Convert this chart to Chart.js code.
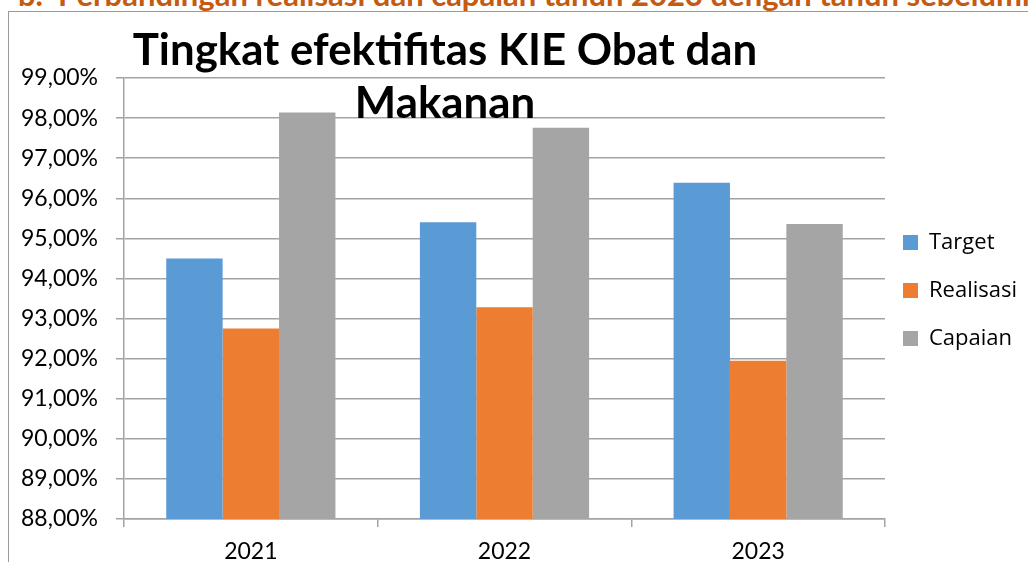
<!DOCTYPE html>
<html>
<head>
<meta charset="utf-8">
<script src="https://cdn.jsdelivr.net/npm/chart.js@4.4.0/dist/chart.umd.min.js"></script>
<style>
  html, body { margin: 0; padding: 0; background: #fff; width: 1028px; height: 562px; overflow: hidden; }
  #heading { position: absolute; left: 18px; top: -25px; line-height: 34px; white-space: nowrap;
             font: bold 31px Lato, sans-serif; color: #C55A11; }
  #frame { position: absolute; left: 8px; top: 11px; width: 1100px; height: 700px;
           border-left: 1px solid #9a9a9a; border-top: 1px solid #9a9a9a; }
  #wrap { position: absolute; left: 0; top: 0; width: 1028px; height: 562px; }
</style>
</head>
<body>
<div id="heading">b.&nbsp;&nbsp;Perbandingan realisasi dan capaian tahun 2023 dengan tahun sebelumnya</div>
<div id="frame"></div>
<div id="wrap"><canvas id="c"></canvas></div>
<script>
const categories = ['2021', '2022', '2023'];
const seriesNames = ['Target', 'Realisasi', 'Capaian'];
const targetValues = [94.50, 95.40, 96.39];
const realisasiValues = [92.75, 93.28, 91.95];
const capaianValues = [98.14, 97.76, 95.36];
const yMin = 88, yMax = 99, yStep = 1;
const titleLines = ['Tingkat efektifitas KIE Obat dan', 'Makanan'];

const FONT = 'Lato';
const LEGEND_FONT = 'Open Sans';
const GRID = '#A3A3A3';

const titlePlugin = {
  id: 'overlayTitle',
  afterDraw(chart) {
    const ctx = chart.ctx;
    ctx.save();
    ctx.font = 'bold 100px ' + FONT;
    const w = ctx.measureText(titleLines[0]).width;
    const size = 100 * 624 / w;
    ctx.font = 'bold ' + size.toFixed(1) + 'px ' + FONT;
    ctx.fillStyle = '#000';
    ctx.textAlign = 'center';
    ctx.textBaseline = 'alphabetic';
    ctx.fillText(titleLines[0], 445, 65);
    ctx.fillText(titleLines[1], 445, 118);
    ctx.restore();
  }
};

// nudge the legend block to where the original places it
const legendPlacer = {
  id: 'legendPlacer',
  afterLayout(chart) {
    const lg = chart.legend;
    if (!lg) return;
    const pad = lg.options.labels.padding;
    const dx = (903 - pad) - lg.left;
    lg.left += dx; lg.right += dx;
    lg.top -= 8; lg.bottom -= 8;
  }
};

new Chart(document.getElementById('c'), {
  type: 'bar',
  data: {
    labels: categories,
    datasets: [
      { label: seriesNames[0], data: targetValues, backgroundColor: '#5B9BD5' },
      { label: seriesNames[1], data: realisasiValues, backgroundColor: '#ED7D31' },
      { label: seriesNames[2], data: capaianValues, backgroundColor: '#A5A5A5' }
    ]
  },
  options: {
    responsive: true,
    maintainAspectRatio: false,
    animation: false,
    categoryPercentage: 0.667,
    barPercentage: 1.0,
    layout: { padding: { top: 78, left: 0, right: -7, bottom: 0 } },
    plugins: {
      tooltip: { enabled: false },
      title: { display: false },
      legend: {
        position: 'right',
        align: 'center',
        fullSize: false,
        labels: {
          boxWidth: 15, boxHeight: 15, padding: 26,
          color: '#000',
          font: { family: LEGEND_FONT, size: 22 }
        }
      }
    },
    scales: {
      x: {
        grid: { display: true, drawOnChartArea: false, drawTicks: true, tickLength: 8, color: GRID, lineWidth: 1.5, offset: true },
        border: { display: true, color: GRID, width: 1.5 },
        ticks: { color: '#000', font: { family: FONT, size: 23 }, padding: 11 },
        afterFit(scale) { scale.height = 43; }
      },
      y: {
        min: yMin, max: yMax,
        ticks: {
          stepSize: yStep, color: '#000', padding: 18,
          font: { family: FONT, size: 23 },
          callback: v => v.toFixed(2).replace('.', ',') + '%'
        },
        grid: { color: GRID, lineWidth: 1.5, tickLength: 8, drawTicks: true },
        border: { display: true, color: GRID, width: 1.5 },
        afterFit(scale) { scale.width = 124; }
      }
    }
  },
  plugins: [titlePlugin, legendPlacer]
});
</script>
</body>
</html>
